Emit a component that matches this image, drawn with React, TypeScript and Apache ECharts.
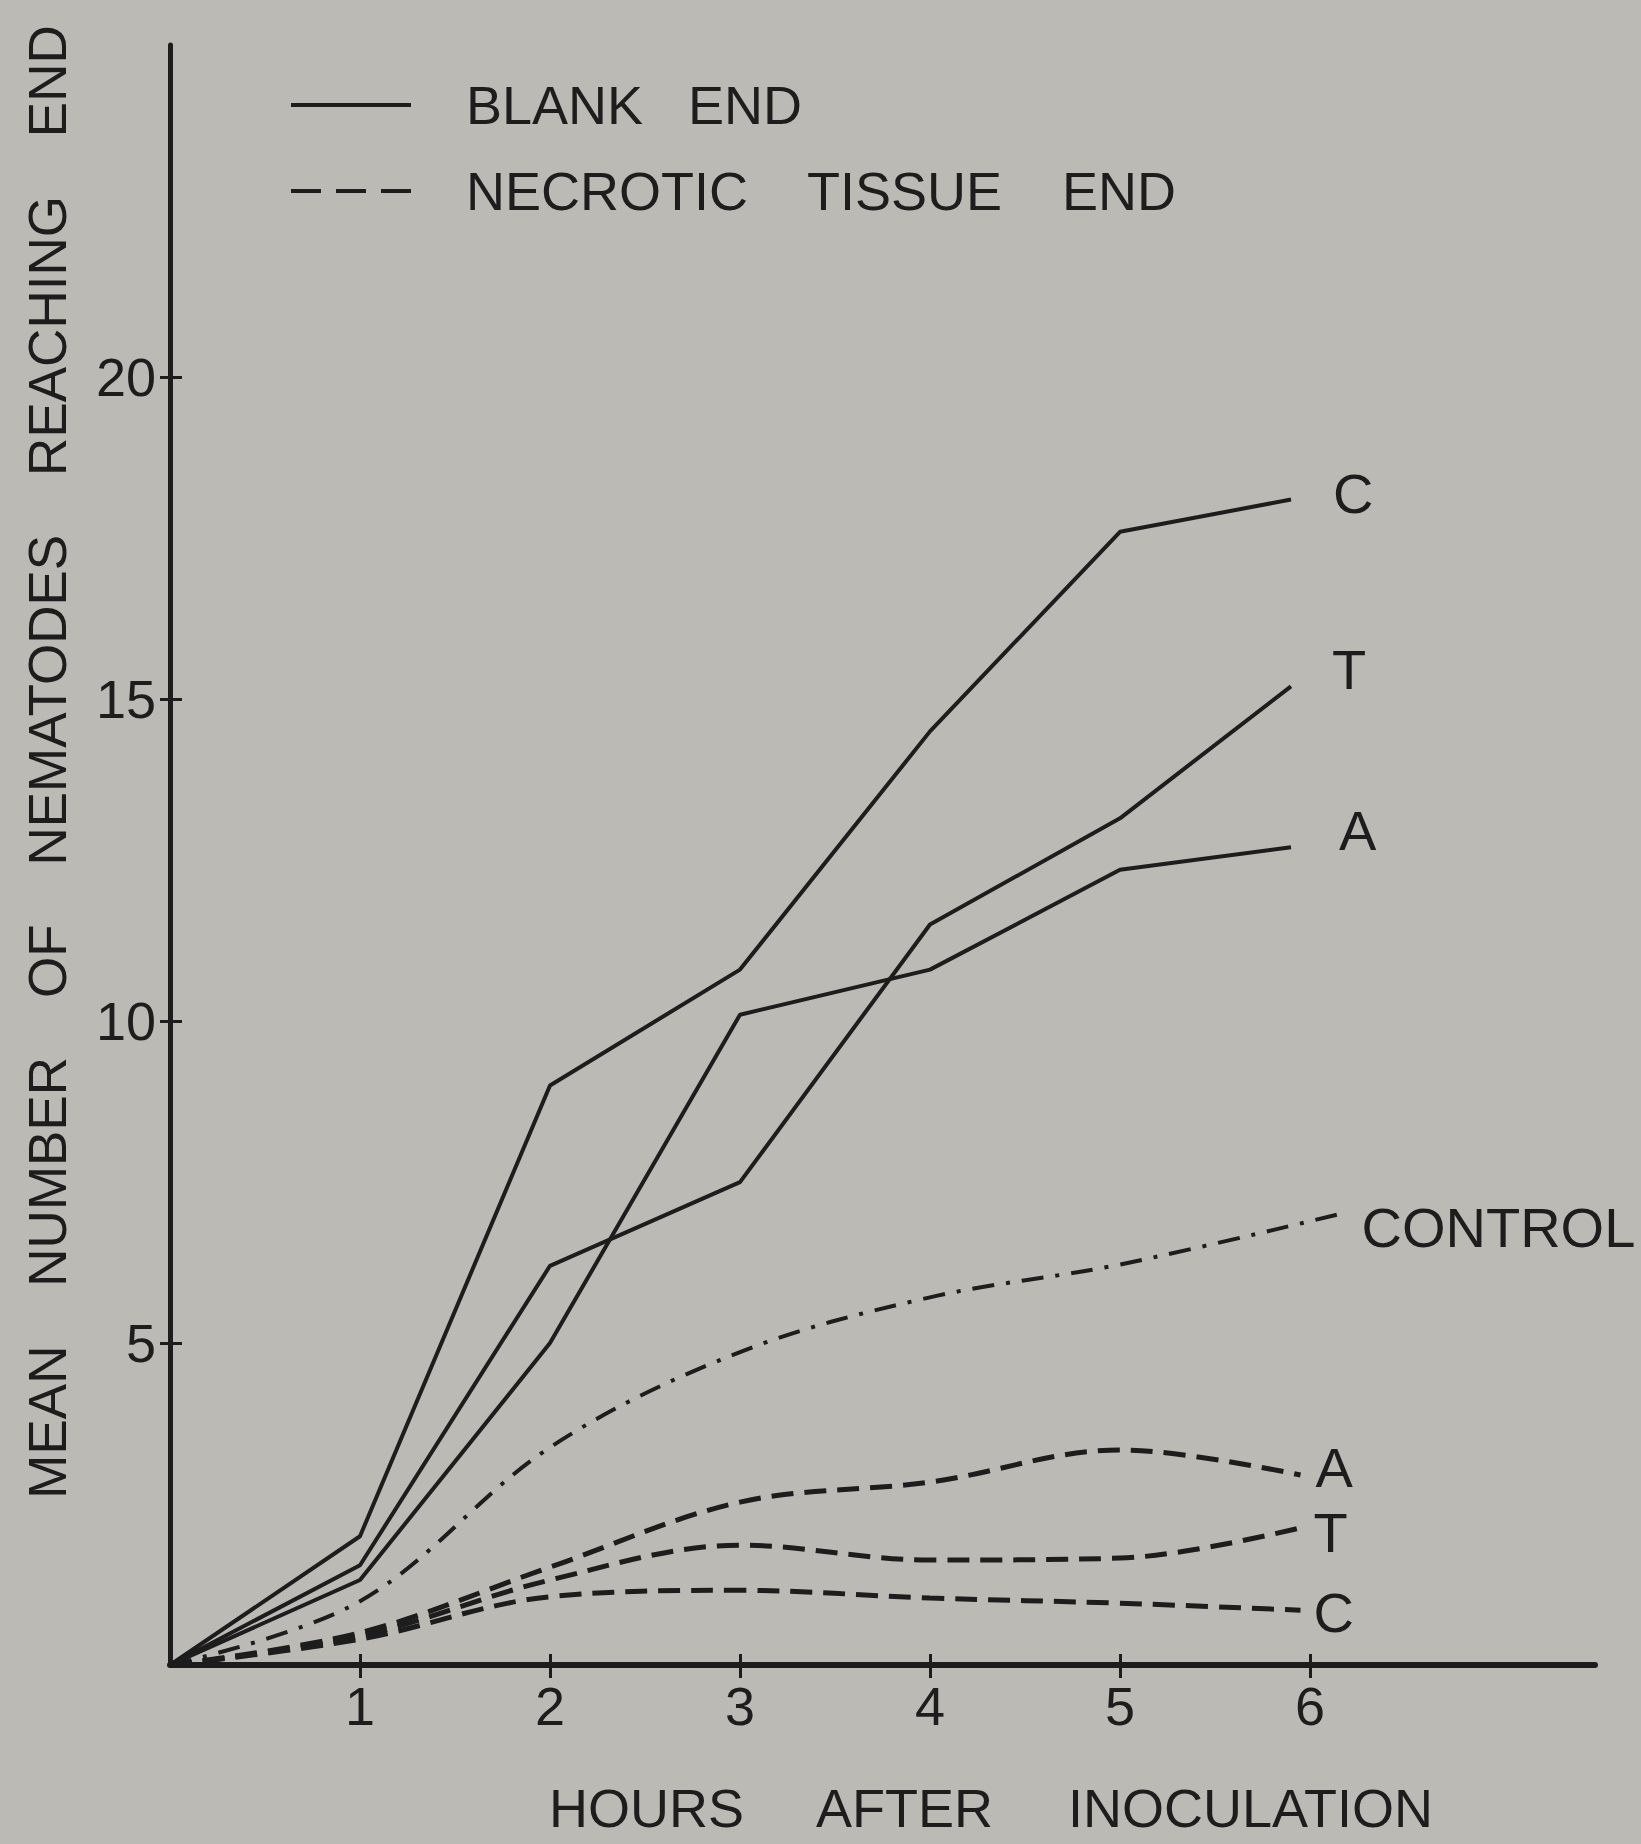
import React, { useEffect, useRef } from "react";
import * as echarts from "echarts";

// Tick values
const hourTicks = [1, 2, 3, 4, 5, 6];
const countTicks = [5, 10, 15, 20];

// Blank end (solid lines)
const blankHours = [0, 1, 2, 3, 4, 5, 5.9];
const blankC = [0, 2.0, 9.0, 10.8, 14.5, 17.6, 18.1];
const blankT = [0, 1.55, 6.2, 7.5, 11.5, 13.15, 15.2];
const blankA = [0, 1.32, 5.0, 10.1, 10.8, 12.35, 12.7];

// Necrotic tissue end (dashed lines)
const necroticHours = [0, 1, 2, 3, 4, 5, 5.95];
const necroticA = [0, 0.5, 1.52, 2.53, 2.84, 3.34, 2.95];
const necroticT = [0, 0.45, 1.32, 1.86, 1.63, 1.66, 2.13];
const necroticC = [0, 0.4, 1.06, 1.16, 1.04, 0.96, 0.85];

// Control (dash-dot)
const controlHours = [0, 1, 2, 3, 4, 5, 6.15];
const control = [0, 0.99, 3.38, 4.86, 5.71, 6.22, 7.0];

const BLANK = "BLANK END";
const NECROTIC = "NECROTIC TISSUE END";

export default function App() {
  const ref = useRef<HTMLDivElement>(null);

  useEffect(() => {
    const chart = echarts.init(ref.current!, null, { renderer: "svg" });
    const font = "'Liberation Sans', Arial, sans-serif";
    const ink = "#1d1d1d";
    const fs = 54;

    const mk = (
      name: string,
      xs: number[],
      ys: number[],
      kind: "solid" | "dashed" | "dashdot",
      label: string,
      offset: number[]
    ) => ({
      type: "line",
      name,
      data: xs.map((x, i) => [x, ys[i]]),
      symbol: "none",
      smooth: kind === "solid" ? false : 0.35,
      xAxisIndex: 0,
      yAxisIndex: 0,
      lineStyle: {
        color: ink,
        width: kind === "dashed" ? 5 : 4,
        type:
          kind === "solid" ? "solid" : kind === "dashed" ? [22, 11] : [22, 12, 4, 12],
        cap: "butt",
      },
      itemStyle: { color: ink },
      emphasis: { disabled: true },
      endLabel: {
        show: true,
        formatter: label,
        color: ink,
        fontSize: fs + 2,
        fontFamily: font,
        distance: 0,
        offset,
        align: "left",
        verticalAlign: "middle",
      },
      z: 3,
    });

    chart.setOption({
      animation: false,
      backgroundColor: "#bbbab5",
      grid: {
        left: 170,
        right: 46,
        top: 45,
        bottom: 179,
        containLabel: false,
        outerBoundsMode: "none",
      },
      legend: {
        orient: "vertical",
        left: 284,
        top: 70,
        itemWidth: 120,
        itemHeight: 10,
        itemGap: 26,
        selectedMode: false,
        itemStyle: { opacity: 0 },
        data: [
          { name: BLANK, lineStyle: { type: "solid", width: 4 } },
          { name: NECROTIC, lineStyle: { type: [30, 15], width: 4 } },
        ],
        formatter: (n: string) =>
          n === BLANK ? "BLANK   END" : "NECROTIC    TISSUE    END",
        textStyle: {
          fontSize: fs,
          fontFamily: font,
          color: ink,
          lineHeight: 60,
          padding: [0, 0, 0, 50],
        },
      },
      xAxis: [
        {
          type: "value",
          min: 0,
          max: 7.5,
          position: "bottom",
          axisLine: { show: true, onZero: false, lineStyle: { color: ink, width: 6 } },
          splitLine: { show: false },
          axisTick: {
            show: true,
            customValues: hourTicks,
            length: 13,
            lineStyle: { color: ink, width: 3 },
          },
          axisLabel: {
            customValues: hourTicks,
            fontSize: fs,
            fontFamily: font,
            color: ink,
            margin: 14,
          },
        },
        {
          type: "value",
          min: 0,
          max: 7.5,
          position: "bottom",
          axisLine: { show: false },
          splitLine: { show: false },
          axisTick: {
            show: true,
            inside: true,
            customValues: hourTicks,
            length: 11,
            lineStyle: { color: ink, width: 3 },
          },
          axisLabel: { show: false },
        },
      ],
      yAxis: [
        {
          type: "value",
          min: 0,
          max: 25.16,
          position: "left",
          axisLine: { show: true, onZero: false, lineStyle: { color: ink, width: 5 } },
          splitLine: { show: false },
          axisTick: {
            show: true,
            customValues: countTicks,
            length: 10,
            lineStyle: { color: ink, width: 3 },
          },
          axisLabel: {
            customValues: countTicks,
            fontSize: fs,
            fontFamily: font,
            color: ink,
            margin: 14,
          },
        },
        {
          type: "value",
          min: 0,
          max: 25.16,
          position: "left",
          axisLine: { show: false },
          splitLine: { show: false },
          axisTick: {
            show: true,
            inside: true,
            customValues: countTicks,
            length: 12,
            lineStyle: { color: ink, width: 3 },
          },
          axisLabel: { show: false },
        },
      ],
      graphic: [
        {
          type: "text",
          x: 991,
          y: 1808,
          style: {
            text: "HOURS     AFTER     INOCULATION",
            fontSize: fs,
            fontFamily: font,
            fill: ink,
            align: "center",
            verticalAlign: "middle",
          },
        },
        {
          type: "text",
          x: 47,
          y: 762,
          rotation: Math.PI / 2,
          style: {
            text: "MEAN    NUMBER    OF    NEMATODES    REACHING    END",
            fontSize: 53,
            fontFamily: font,
            fill: ink,
            align: "center",
            verticalAlign: "middle",
          },
        },
      ],
      series: [
        mk(BLANK, blankHours, blankC, "solid", "C", [42, -6]),
        mk(BLANK, blankHours, blankT, "solid", "T", [41, -17]),
        mk(BLANK, blankHours, blankA, "solid", "A", [48, -17]),
        mk(NECROTIC, necroticHours, necroticA, "dashed", "A", [15, -8]),
        mk(NECROTIC, necroticHours, necroticT, "dashed", "T", [13, 5]),
        mk(NECROTIC, necroticHours, necroticC, "dashed", "C", [13, 2]),
        mk("CONTROL", controlHours, control, "dashdot", "CONTROL", [23, 13]),
      ],
    });

    return () => chart.dispose();
  }, []);

  return (
    <div
      ref={ref}
      style={{ position: "absolute", left: 0, top: 0, width: 1641, height: 1844 }}
    />
  );
}
